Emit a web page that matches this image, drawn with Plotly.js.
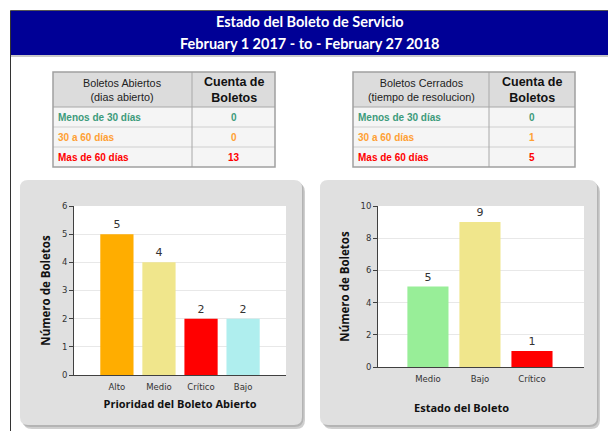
<!DOCTYPE html>
<html><head><meta charset="utf-8">
<script src="https://cdn.plot.ly/plotly-3.0.1.min.js"></script>
<style>html,body{margin:0;padding:0;background:#fff;overflow:hidden}#chart{width:608px;height:431px}</style>
</head><body><div id="chart"></div>
<script>
// ---- data ----
const headerTitle = "Estado del Boleto de Servicio";
const headerSubtitle = "February 1 2017 - to - February 27 2018";

const openTableHeader = ["Boletos Abiertos<br>(dias abierto)", "Cuenta de<br>Boletos"];
const closedTableHeader = ["Boletos Cerrados<br>(tiempo de resolucion)", "Cuenta de<br>Boletos"];
const ageBuckets = ["Menos de 30 días", "30 a 60 días", "Mas de 60 días"];
const openCounts = [0, 0, 13];
const closedCounts = [0, 1, 5];
const bucketColors = ["#3d9b7b", "#ffa033", "#ff0000"];

const openPriorities = ["Alto", "Medio", "Crítico", "Bajo"];
const openPriorityCounts = [5, 4, 2, 2];
const openPriorityColors = ["#ffad00", "#f0e68c", "#ff0000", "#afeeee"];

const closedStates = ["Medio", "Bajo", "Crítico"];
const closedStateCounts = [5, 9, 1];
const closedStateColors = ["#98ee98", "#f0e68c", "#ff0000"];

const yTitle = "Número de Boletos";
const openXTitle = "Prioridad del Boleto Abierto";
const closedXTitle = "Estado del Boleto";

// ---- layout helpers ----
const W = 608, H = 431;
const px = x => x / W;
const py = y => 1 - y / H;
function roundRect(x0, y0, x1, y1, r) {
  return `M${px(x0 + r)},${py(y0)} L${px(x1 - r)},${py(y0)} Q${px(x1)},${py(y0)} ${px(x1)},${py(y0 + r)} ` +
    `L${px(x1)},${py(y1 - r)} Q${px(x1)},${py(y1)} ${px(x1 - r)},${py(y1)} L${px(x0 + r)},${py(y1)} ` +
    `Q${px(x0)},${py(y1)} ${px(x0)},${py(y1 - r)} L${px(x0)},${py(y0 + r)} Q${px(x0)},${py(y0)} ${px(x0 + r)},${py(y0)} Z`;
}
const bold = s => "<b>" + s + "</b>";
const P = (o) => Object.assign({ xref: "paper", yref: "paper" }, o);

const shapes = [];
const annotations = [];

// table drawn from the data arrays
function buildTable(x0, xs, x1, y0, headerH, rowH, header, labels, counts, colors) {
  const yb = y0 + headerH;
  const ye = yb + rowH * labels.length;
  shapes.push(P({ type: "rect", x0: px(x0), x1: px(x1), y0: py(yb), y1: py(y0), fillcolor: "#dcdcdc", line: { width: 0 }, layer: "below" }));
  shapes.push(P({ type: "rect", x0: px(x0), x1: px(x1), y0: py(ye), y1: py(yb), fillcolor: "#f5f5f5", line: { width: 0 }, layer: "below" }));
  for (let i = 0; i < labels.length; i++) {
    const ry = yb + rowH * i;
    shapes.push(P({ type: "line", x0: px(x0), x1: px(x1), y0: py(ry), y1: py(ry), line: { color: i === 0 ? "#a8a8a8" : "#cfcfcf", width: 1 } }));
    const cy = ry + rowH / 2;
    annotations.push(P({ x: px(x0 + 3), y: py(cy), text: bold(labels[i]), showarrow: false, xanchor: "left", yanchor: "middle",
      font: { family: "Liberation Sans", size: 10, color: colors[i] } }));
    annotations.push(P({ x: px((xs + x1) / 2), y: py(cy), text: bold(String(counts[i])), showarrow: false, xanchor: "center", yanchor: "middle",
      font: { family: "Liberation Sans", size: 10, color: colors[i] } }));
  }
  shapes.push(P({ type: "line", x0: px(xs), x1: px(xs), y0: py(ye), y1: py(y0), line: { color: "#a8a8a8", width: 1 } }));
  shapes.push(P({ type: "rect", x0: px(x0), x1: px(x1), y0: py(ye), y1: py(y0), line: { color: "#a0a0a0", width: 1.5 } }));
  annotations.push(P({ x: px((x0 + xs) / 2), y: py(y0 + headerH / 2), text: header[0], showarrow: false, xanchor: "center", yanchor: "middle",
    font: { family: "Liberation Sans", size: 10.8, color: "#222" } }));
  annotations.push(P({ x: px((xs + x1) / 2), y: py(y0 + headerH / 2), text: bold(header[1]), showarrow: false, xanchor: "center", yanchor: "middle",
    font: { family: "Liberation Sans", size: 12.5, color: "#111" } }));
}

const barText = { family: "DejaVu Sans", size: 11, color: "#333" };

const data = [
  {
    type: "bar", x: openPriorities, y: openPriorityCounts, xaxis: "x", yaxis: "y",
    marker: { color: openPriorityColors, line: { width: 0 } },
    text: openPriorityCounts.map(String), textposition: "outside", cliponaxis: false,
    textfont: barText, hoverinfo: "x+y"
  },
  {
    type: "bar", x: closedStates, y: closedStateCounts, xaxis: "x2", yaxis: "y2",
    marker: { color: closedStateColors, line: { width: 0 } },
    text: closedStateCounts.map(String), textposition: "outside", cliponaxis: false,
    textfont: barText, hoverinfo: "x+y"
  }
];

const axisLine = "#404040";
const tickFont = { family: "DejaVu Sans", size: 8.5, color: "#333" };
const titleFont = { family: "Open Sans", size: 11, color: "#111", weight: "bold" };

function yAxis(domain, range, dtick, anchor) {
  return {
    domain: domain, range: range, dtick: dtick, anchor: anchor,
    showline: true, linecolor: axisLine, linewidth: 1,
    ticks: "outside", ticklen: 4, tickcolor: axisLine,
    showgrid: true, gridcolor: "#e8e8e8", zeroline: false,
    tickfont: tickFont, fixedrange: true,
    title: { text: yTitle, font: Object.assign({}, titleFont, { size: 11.5 }), standoff: 8 }
  };
}
function xAxis(domain, range, anchor, title) {
  return {
    domain: domain, range: range, anchor: anchor, type: "category",
    showline: true, linecolor: axisLine, linewidth: 1,
    ticks: "", showgrid: false, zeroline: false, ticklabelstandoff: 4,
    tickfont: { family: "DejaVu Sans", size: 8.5, color: "#333" }, fixedrange: true,
    title: title ? { text: title, font: titleFont, standoff: 9 } : { text: "" }
  };
}

shapes.push(
  // header frame and banner
  P({ type: "rect", x0: px(11), x1: px(608), y0: py(55), y1: py(11), fillcolor: "#000096", line: { width: 0 }, layer: "below" }),
  P({ type: "line", x0: px(10.5), x1: px(608), y0: py(10.5), y1: py(10.5), line: { color: "#555", width: 1 } }),
  P({ type: "line", x0: px(10.5), x1: px(10.5), y0: py(10.5), y1: py(431), line: { color: "#333", width: 1 } }),
  P({ type: "line", x0: px(11), x1: px(608), y0: py(56), y1: py(56), line: { color: "#c8c8c8", width: 2 } }),
  // panel shadows
  P({ type: "path", path: roundRect(23, 183, 305, 429, 9), fillcolor: "#cfcfcf", line: { width: 0 }, layer: "below" }),
  P({ type: "path", path: roundRect(21.5, 181.5, 303.5, 427, 9), fillcolor: "#b4b4b4", line: { width: 0 }, layer: "below" }),
  P({ type: "path", path: roundRect(323, 183, 600, 429, 9), fillcolor: "#cfcfcf", line: { width: 0 }, layer: "below" }),
  P({ type: "path", path: roundRect(321.5, 181.5, 598.5, 427, 9), fillcolor: "#b4b4b4", line: { width: 0 }, layer: "below" }),
  // panels
  P({ type: "path", path: roundRect(20, 180, 302, 425, 8), fillcolor: "#e0e0e0", line: { width: 0 }, layer: "below" }),
  P({ type: "path", path: roundRect(320, 180, 597, 425, 8), fillcolor: "#e0e0e0", line: { width: 0 }, layer: "below" }),
  // plot backgrounds
  { type: "rect", xref: "x domain", yref: "y domain", x0: 0, x1: 1, y0: 0, y1: 1, fillcolor: "#ffffff", line: { width: 0 }, layer: "below" },
  { type: "rect", xref: "x2 domain", yref: "y2 domain", x0: 0, x1: 1, y0: 0, y1: 1, fillcolor: "#ffffff", line: { width: 0 }, layer: "below" }
);

buildTable(53, 192, 275, 72, 35, 20, openTableHeader, ageBuckets, openCounts, bucketColors);
buildTable(353, 489, 575, 72, 35, 20, closedTableHeader, ageBuckets, closedCounts, bucketColors);

annotations.push(
  P({ x: px(310), y: py(22), text: bold(headerTitle), showarrow: false,
    font: { family: "Lato", size: 14.5, color: "#ffffff" }, xanchor: "center", yanchor: "middle" }),
  P({ x: px(310), y: py(44), text: bold(headerSubtitle), showarrow: false,
    font: { family: "Lato", size: 14.5, color: "#ffffff" }, xanchor: "center", yanchor: "middle" }),
  P({ x: px(461), y: py(407), text: closedXTitle, showarrow: false,
    font: titleFont, xanchor: "center", yanchor: "middle" })
);

const layout = {
  width: W, height: H,
  margin: { l: 0, r: 0, t: 0, b: 0, pad: 0 },
  paper_bgcolor: "#ffffff", plot_bgcolor: "rgba(0,0,0,0)",
  showlegend: false, bargap: 0.21,
  xaxis: xAxis([px(74), px(286)], [-1.02, 4.02], "y", openXTitle),
  yaxis: yAxis([py(375), py(206)], [0, 6], 1, "x"),
  xaxis2: xAxis([px(378), px(584)], [-0.96, 3.0], "y2", null),
  yaxis2: yAxis([py(367), py(206)], [0, 10], 2, "x2"),
  shapes: shapes, annotations: annotations,
  font: { family: "DejaVu Sans" }
};

Plotly.newPlot("chart", data, layout, { displayModeBar: false, staticPlot: true });
</script>
</body></html>
